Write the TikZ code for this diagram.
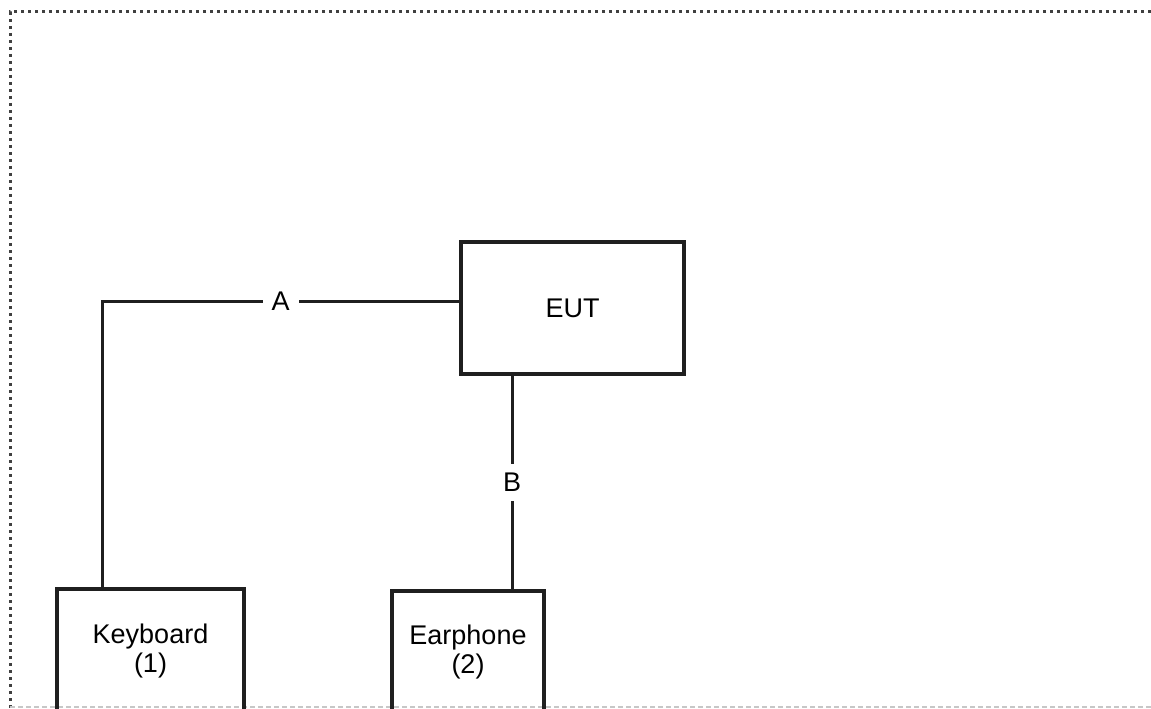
\documentclass[tikz,border=0pt]{standalone}
\usepackage{fontspec}
\setmainfont{Liberation Sans}
\begin{document}
\begin{tikzpicture}[x=1pt,y=-1pt,
  box/.style={draw=black!88, line width=3.2pt, fill=none, align=center, inner sep=0pt,
    font=\fontsize{27}{29}\selectfont},
  wire/.style={draw=black!88, line width=3pt},
  lbl/.style={fill=white, inner sep=9pt, font=\fontsize{27}{29}\selectfont}]
\useasboundingbox (0,0) rectangle (1151,709);
\clip (0,0) rectangle (1151,709);
% frame
\draw[black!75, line width=3pt, dash pattern=on 3pt off 4pt] (1151,12) -- (10,12) -- (10,709);
\draw[black!22, line width=1.5pt, dash pattern=on 5pt off 3pt] (10,707) -- (1151,707);
% boxes
\node[box, minimum width=223pt, minimum height=132pt] (eut) at (572.5,308) {EUT};
\node[box, minimum width=187pt, minimum height=124pt] (kb) at (150.5,651) {Keyboard\\(1)};
\node[box, minimum width=152pt, minimum height=122pt] (ep) at (468,652) {Earphone\\(2)};
% connectors
\coordinate (ka) at (102,301);
\coordinate (bx) at (512,400);
\draw[wire] (eut.west |- ka) -- node[lbl] {A} (ka) -- (ka |- kb.north);
\draw[wire] (eut.south -| bx) -- node[lbl] {B} (bx |- ep.north);
\end{tikzpicture}
\end{document}
